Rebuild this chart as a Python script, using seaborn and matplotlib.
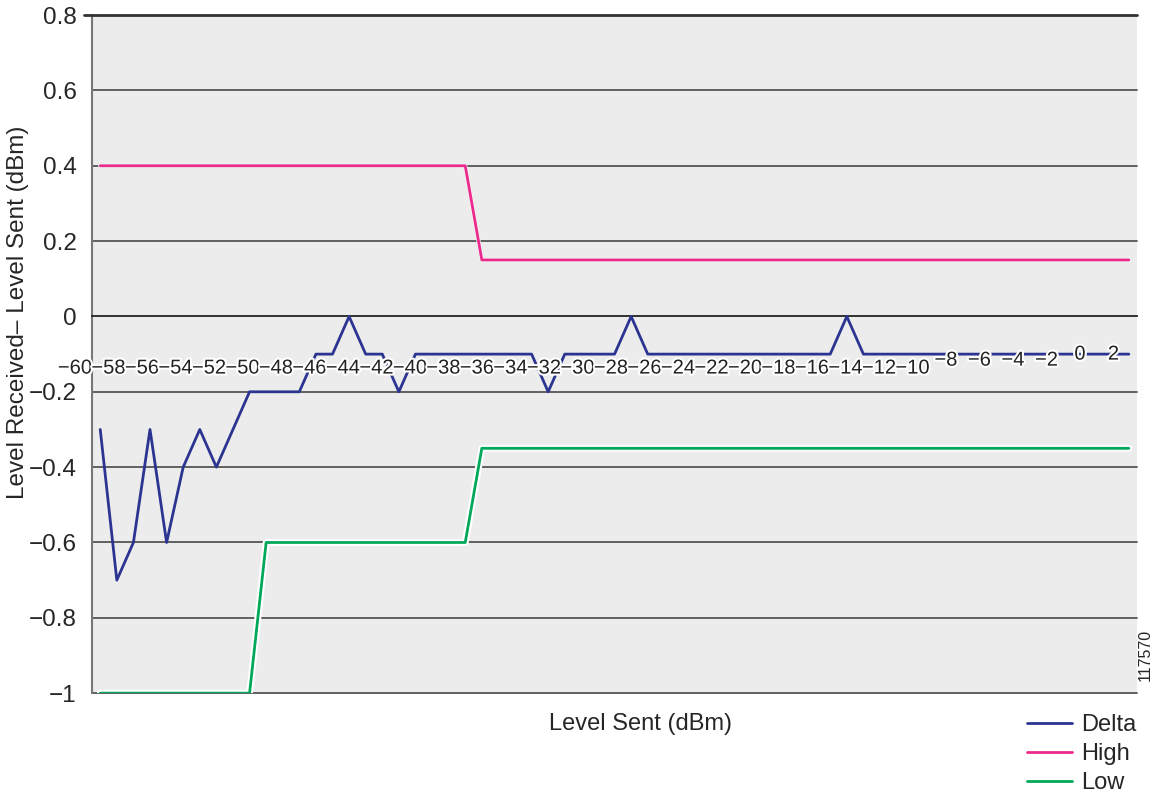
import numpy as np
import pandas as pd
import seaborn as sns
import matplotlib.pyplot as plt
import matplotlib.patheffects as pe
from matplotlib.lines import Line2D

# level sent, one point per dBm
level_sent = list(range(-60, 3))

delta = [-0.3, -0.7, -0.6, -0.3, -0.6, -0.4, -0.3, -0.4, -0.3, -0.2,
         -0.2, -0.2, -0.2, -0.1, -0.1, 0.0, -0.1, -0.1, -0.2] \
    + [-0.1] * 8 + [-0.2] + [-0.1] * 4 + [0.0] + [-0.1] * 12 + [0.0] + [-0.1] * 17
high = [0.4] * 23 + [0.15] * 40
low = [-1.0] * 10 + [-0.6] * 13 + [-0.35] * 40

xtick_labels = list(range(-60, 3, 2))
ytick_vals = [0.8, 0.6, 0.4, 0.2, 0, -0.2, -0.4, -0.6, -0.8, -1]

colors = {'Delta': '#2b3591', 'High': '#ec2a8e', 'Low': '#00a85a'}

df = pd.DataFrame({'x': level_sent * 3,
                   'y': delta + high + low,
                   'series': ['Delta'] * 63 + ['High'] * 63 + ['Low'] * 63})

sns.set_style('white')
plt.rcParams['font.family'] = ['Liberation Sans', 'DejaVu Sans']

fig = plt.figure(figsize=(11.58, 7.94), dpi=100)
ax = fig.add_axes([0.0794, 0.127, 0.9026, 0.854])
ax.set_facecolor('#ececec')

for y in ytick_vals:
    if y not in (0, 0.8):
        ax.axhline(y, color='#555555', lw=1.3, zorder=1, clip_on=False)

sns.lineplot(data=df, x='x', y='y', hue='series', palette=colors, ax=ax,
             lw=2, legend=False, zorder=3)
low_line = ax.lines[-1]
low_line.set_path_effects([pe.Stroke(linewidth=5, foreground='white'), pe.Normal()])
ax.lines[-2].set_path_effects([pe.Stroke(linewidth=3, foreground='#f5f5f5'), pe.Normal()])

ax.set_xlim(-60.5, 2.5)
ax.set_ylim(-1, 0.8)

# spines
for s in ['top', 'right']:
    ax.spines[s].set_visible(False)
ax.spines['left'].set_color('#777777')
ax.spines['left'].set_linewidth(1.5)
ax.spines['bottom'].set_position(('data', 0))
ax.spines['bottom'].set_color('#222222')
ax.spines['bottom'].set_linewidth(1.3)
ax.axhline(0.8, xmin=-0.008, color='#333333', lw=2, zorder=4, clip_on=False)

ax.set_xticks(np.arange(-59.5, 2.5, 1))
ax.set_xticklabels([])
ax.tick_params(axis='x', direction='out', length=5, width=1, color='#333333')

ax.set_yticks(ytick_vals)
ax.set_yticklabels([('−' + f'{abs(v):g}') if v < 0 else f'{v:g}' for v in ytick_vals],
                   fontsize=17.5)
ax.tick_params(axis='y', direction='out', length=9, width=1, color='#555555', pad=2)

# category labels with white halo
halo = [pe.withStroke(linewidth=3, foreground='white')]
for v in xtick_labels:
    xp = -61.525 + 1.0096 * (v + 60)
    if v <= -10:
        yp = -0.137
    elif v < 0:
        yp = -0.116
    else:
        yp = -0.10
    txt = ('−' + str(abs(v))) if v < 0 else str(v)
    ax.text(xp, yp, txt, ha='center', va='center', fontsize=14.5, color='#222222',
            path_effects=halo, zorder=5, clip_on=False)

ax.set_xlabel('')
ax.set_ylabel('Level Received– Level Sent (dBm)', fontsize=17.5)
ax.yaxis.set_label_coords(-0.06, 0.562)
fig.text(0.553, 0.088, 'Level Sent (dBm)', ha='center', va='center', fontsize=17)
fig.text(0.989, 0.175, '117570', rotation=90, ha='center', va='center', fontsize=11.5)

handles = [Line2D([], [], color=colors[k], lw=2) for k in ['Delta', 'High', 'Low']]
fig.legend(handles, ['Delta', 'High', 'Low'], loc='lower right',
           bbox_to_anchor=(1.0, -0.027), frameon=False, fontsize=17,
           handlelength=1.9, handletextpad=0.4, labelspacing=0.3)

fig.savefig('out.png', dpi=100)
